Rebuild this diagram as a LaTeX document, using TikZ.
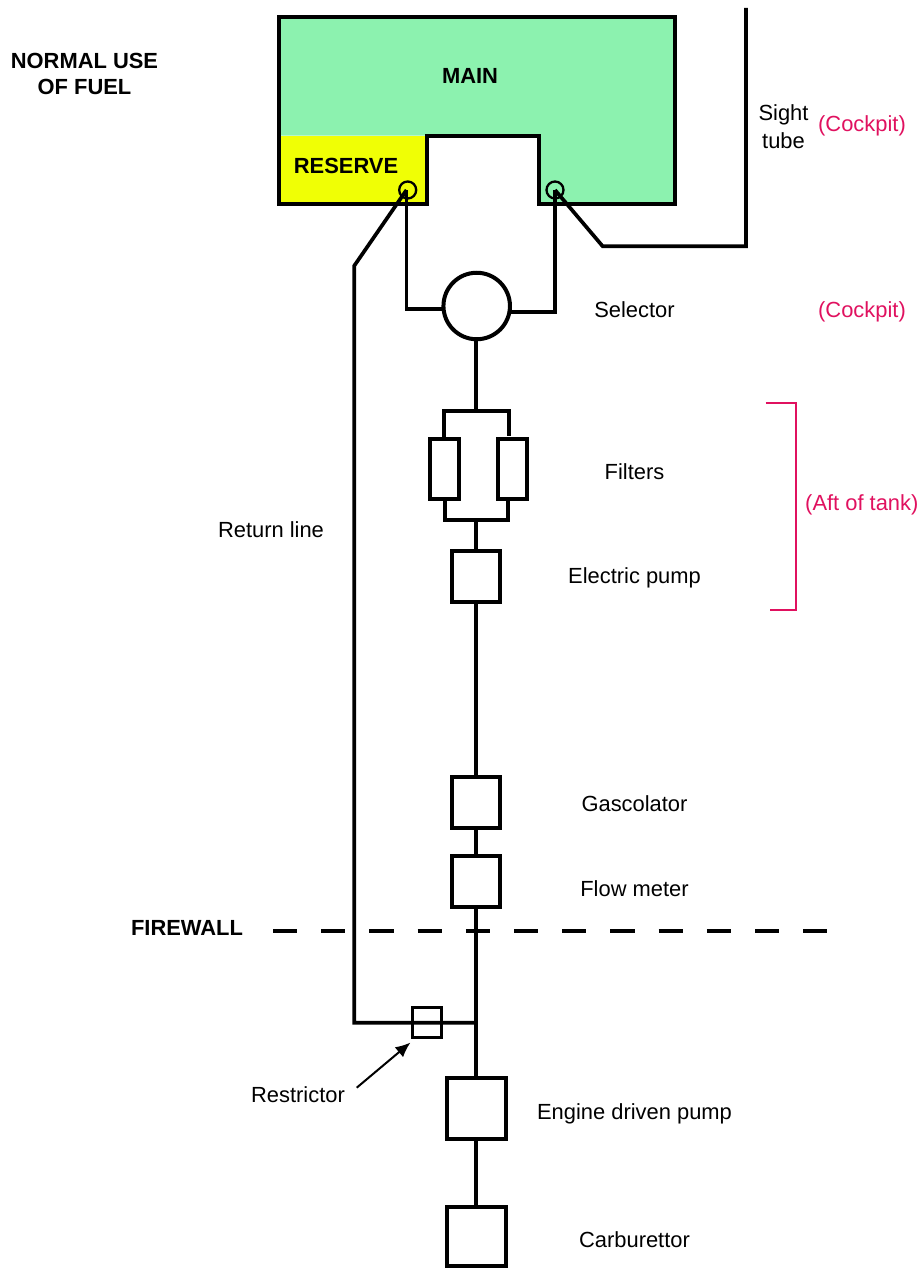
\documentclass[tikz,border=0pt]{standalone}
\usepackage{fontspec}
\setmainfont{Liberation Sans}
\usetikzlibrary{arrows.meta}
\definecolor{locpink}{HTML}{E0115F}
\definecolor{maingreen}{HTML}{8CF2AF}
\definecolor{resyellow}{HTML}{F0FF05}
\tikzset{
 x=1pt,y=-1pt,
 pipe/.style={line width=3.7pt,draw=black,line join=miter},
 unitbox/.style={line width=4pt,draw=black,fill=white,inner sep=0pt,outer sep=0pt},
 lbl/.style={font=\fontsize{21.9}{26}\selectfont,text=black,inner sep=0pt,align=center},
 boldlbl/.style={font=\fontsize{21.9}{26}\selectfont\bfseries,text=black,inner sep=0pt,align=center},
 loc/.style={font=\fontsize{21.9}{26}\selectfont,text=locpink,inner sep=0pt,align=center},
}
\begin{document}
\begin{tikzpicture}
\useasboundingbox (0,0) rectangle (920,1268);
% tank
\fill[maingreen] (278.5,17) -- (674.7,17) -- (674.7,203.5) -- (539,203.5) -- (539,135.7) -- (278.5,135.7) -- cycle;
\fill[resyellow] (278.5,135.7) rectangle (426.7,203.5);
\draw[line width=4pt,line join=miter] (278.5,17) -- (674.7,17) -- (674.7,203.5) -- (539,203.5) -- (539,135.7) -- (426.7,135.7) -- (426.7,203.5) -- (278.5,203.5) -- cycle;
% outlets
\node[circle,draw=black,line width=2.3pt,minimum size=17pt,inner sep=0pt] (res) at (407.7,190) {};
\node[circle,draw=black,line width=2.3pt,minimum size=17pt,inner sep=0pt] (mn) at (555,190) {};
% units
\node[circle,draw=black,line width=4pt,fill=white,minimum size=66.5pt,inner sep=0pt,outer sep=0pt] (sel) at (476.7,306) {};
\node[unitbox,minimum width=29pt,minimum height=60pt] (fl) at (444.7,468.8) {};
\node[unitbox,minimum width=29pt,minimum height=60pt] (fr) at (512,468.8) {};
\node[unitbox,minimum width=48pt,minimum height=51pt] (ep) at (476.3,576.7) {};
\node[unitbox,minimum width=48pt,minimum height=51pt] (gas) at (476.3,802) {};
\node[unitbox,minimum width=48pt,minimum height=51pt] (fm) at (476.3,881.5) {};
\node[unitbox,minimum width=59pt,minimum height=61pt] (edp) at (476.3,1108.8) {};
\node[unitbox,minimum width=59pt,minimum height=59pt] (carb) at (476.3,1236.5) {};
\coordinate (rc) at (406.5,190);
\coordinate (mc) at (555,190);
\coordinate (rj) at (406.5,309);
\coordinate (mj) at (555,312);
\coordinate (ftop) at (476.3,410.7);
\coordinate (fbot) at (476.3,520);
\coordinate (junc) at (476.3,1022.7);
\coordinate (rb) at (354.3,1022.7);
% pipes
\draw[pipe] (rc) -- (rj) -- (sel.185.7 |- rj);
\draw[pipe] (mc) -- (mj) -- (sel.-11 |- mj);
\draw[pipe] (rc) -- (354.3,265.7) -- (rb) -- (junc);
\draw[pipe] (mc) -- (602.7,246.3) -- (746,246.3) -- (746,8);
\draw[pipe] (sel.south -| ftop) -- (ftop);
\draw[pipe] (fl.north -| 443.7,0) -- (443.7,410.7) -- (ftop) -- (509,410.7) -- (509,435.7);
\draw[pipe] (fl.south -| 444.7,0) -- (444.7,520) -- (fbot) -- (508,520) -- (fr.south -| 508,0);
\draw[pipe] (fbot) -- (ep.north);
\draw[pipe] (ep.south) -- (gas.north);
\draw[pipe] (gas.south) -- (fm.north);
\draw[pipe] (fm.south) -- (junc);
\draw[pipe] (junc) -- (edp.north);
\draw[pipe] (edp.south) -- (carb.north);
% firewall
\coordinate (fw1) at (273,930.7);
\coordinate (fw2) at (828,930.7);
\draw[line width=3.7pt,dash pattern=on 24.2pt off 24pt] (fw1) -- (fw2);
% restrictor
\node[draw=black,line width=3.5pt,minimum width=29pt,minimum height=30pt,inner sep=0pt] (rest) at (427.2,1022.7) {};
% labels
\node[boldlbl] (t1) at (84.5,74) {NORMAL USE\\OF FUEL};
\node[boldlbl] (tmain) at (470,75.5) {MAIN};
\node[boldlbl] (tres) at (346,166) {RESERVE};
\node[lbl] (tsight) at (783.5,126.5) {Sight\\[2pt]tube};
\node[loc] (c1) at (862,126) {(Cockpit)};
\node[lbl] (tsel) at (634.5,309.5) {Selector};
\node[loc] (c2) at (862,312) {(Cockpit)};
\node[lbl] (tfil) at (634.5,472) {Filters};
\node[loc] (aft) at (861.8,504.7) {(Aft of tank)};
\node[lbl] (tret) at (271,530) {Return line};
\node[lbl] (tep) at (634.5,578) {Electric pump};
\node[lbl] (tgas) at (634.5,803.5) {Gascolator};
\node[lbl] (tfm) at (634.5,888.5) {Flow meter};
\node[boldlbl] (tfw) at (187,928) {FIREWALL};
\node[lbl] (trs) at (298,1095) {Restrictor};
\node[lbl] (tedp) at (634.5,1114) {Engine driven pump};
\node[lbl] (tcarb) at (634.5,1239.5) {Carburettor};
% restrictor arrow
\coordinate (ra) at (356.7,1087.7);
\draw[line width=2pt,-{Latex[length=15pt,width=13pt]}] (ra) -- (410.5,1042.5);
% bracket
\coordinate (b1) at (765.7,403.3);
\coordinate (b2) at (770,610);
\draw[locpink,line width=1.9pt] (b1) -- (796,403.3) -- (796,610) -- (b2);
\end{tikzpicture}
\end{document}
